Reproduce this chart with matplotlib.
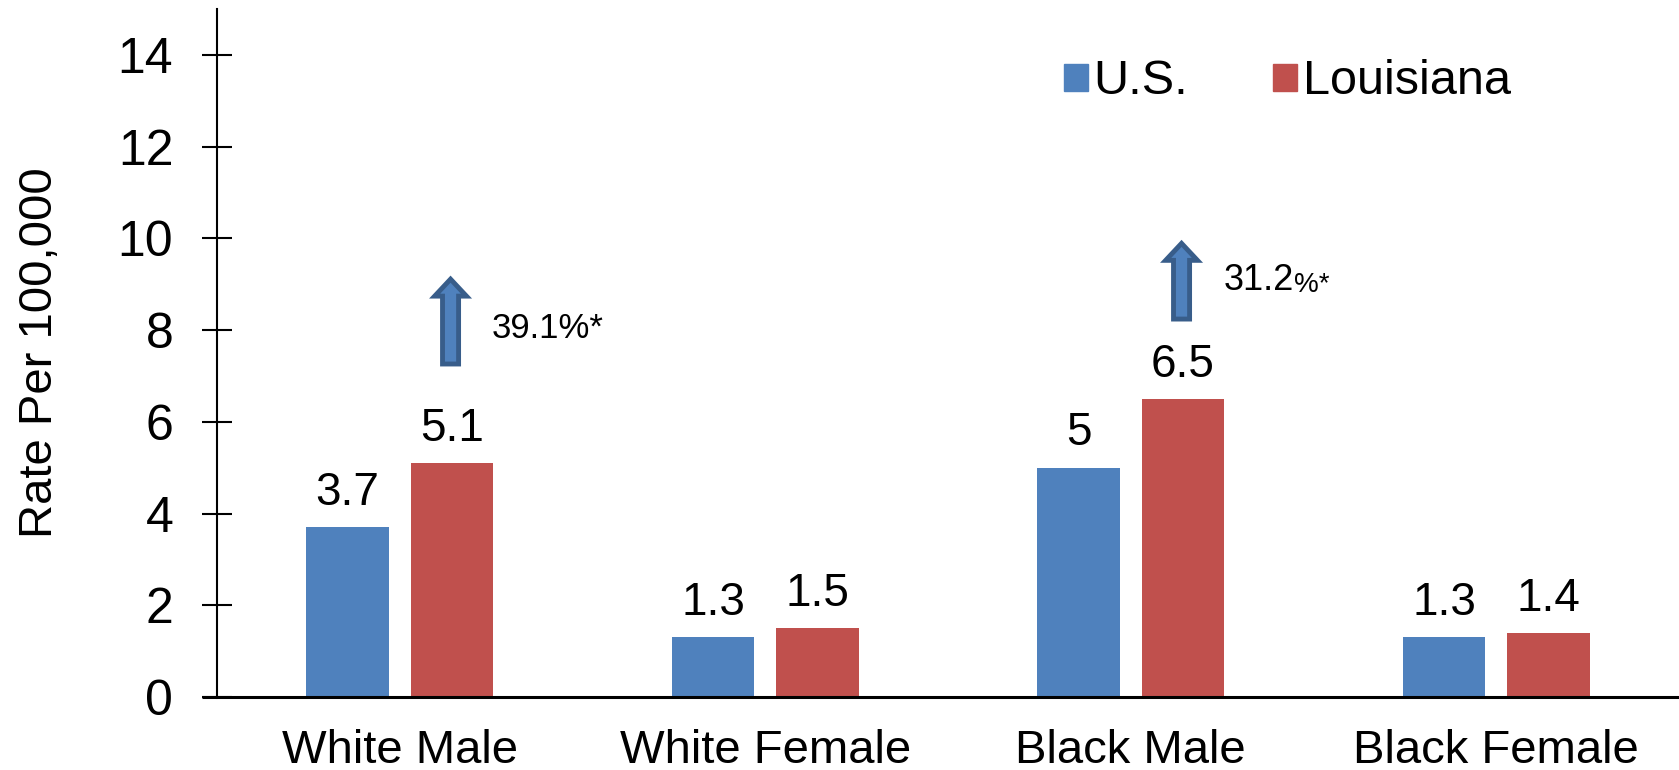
import numpy as np
import matplotlib
matplotlib.use('Agg')
import matplotlib.pyplot as plt
from matplotlib.patches import FancyArrow, Patch

plt.rcParams['font.family'] = ['Liberation Sans', 'DejaVu Sans']

groups = ['White Male', 'White Female', 'Black Male', 'Black Female']
us_rate = [3.7, 1.3, 5, 1.3]
la_rate = [5.1, 1.5, 6.5, 1.4]
series_names = ['U.S.', 'Louisiana']
y_ticks = [0, 2, 4, 6, 8, 10, 12, 14]

US_COLOR = '#4F81BD'
LA_COLOR = '#C0504D'

fig = plt.figure(figsize=(16.79, 7.70), dpi=100)
ax = fig.add_axes([217 / 1679, 1 - 697 / 770, 1 - 217 / 1679, (697 - 9) / 770])

x = np.arange(len(groups))
width = 0.226
offset = 0.143
bars_us = ax.bar(x - offset, us_rate, width, color=US_COLOR)
bars_la = ax.bar(x + offset, la_rate, width, color=LA_COLOR)

for bars, vals in ((bars_us, us_rate), (bars_la, la_rate)):
    for b, v in zip(bars, vals):
        ax.annotate(f'{v:g}', (b.get_x() + b.get_width() / 2, v),
                    xytext=(0, 16), textcoords='offset points',
                    ha='center', va='baseline', fontsize=33)

ax.set_xlim(-0.5, 3.5)
ax.set_ylim(0, 15)
ax.set_yticks(y_ticks)
ax.set_xticks(x)
ax.set_xticklabels(groups, fontsize=34)
ax.tick_params(axis='x', length=0, pad=23)
ax.tick_params(axis='y', direction='inout', length=21, width=1.5,
               labelsize=36, pad=21)
ax.set_ylabel('Rate Per 100,000', fontsize=34, labelpad=40)

for side in ('top', 'right'):
    ax.spines[side].set_visible(False)
ax.spines['left'].set_linewidth(1.5)
ax.spines['bottom'].set_linewidth(2.2)
# baseline runs a little past the value axis, like the tick marks
ax.plot([-0.5 - 15 / 365.5, -0.5], [0, 0], color='black', lw=2.2,
        clip_on=False, solid_capstyle='butt')

# change arrows above the Louisiana bars (male groups)
for gx, y0, y1 in ((0, 7.26, 9.11), (2, 8.24, 9.89)):
    ax.add_patch(FancyArrow(gx + offset - 0.004, y0, 0, y1 - y0, width=0.044,
                            head_width=0.087, head_length=0.37,
                            length_includes_head=True, fc=US_COLOR,
                            ec='#385D8A', lw=3.5, clip_on=False))

ax.text(0.251, 8.04, '39.1%*', fontsize=25, ha='left', va='center')
t = ax.text(2.255, 9.07, '31.2', fontsize=26, ha='left', va='center')
ax.annotate('%*', xy=(1, 0), xycoords=t, fontsize=20, ha='left', va='bottom')

handles = [Patch(color=US_COLOR), Patch(color=LA_COLOR)]
fig.legend(handles, series_names, loc='center left',
           bbox_to_anchor=(1064 / 1679, 1 - 82 / 770), ncol=2, frameon=False,
           fontsize=35, handlelength=0.49, handleheight=0.49,
           handletextpad=0.12, columnspacing=1.75, borderpad=0,
           borderaxespad=0)

fig.savefig('out.png', dpi=100)
